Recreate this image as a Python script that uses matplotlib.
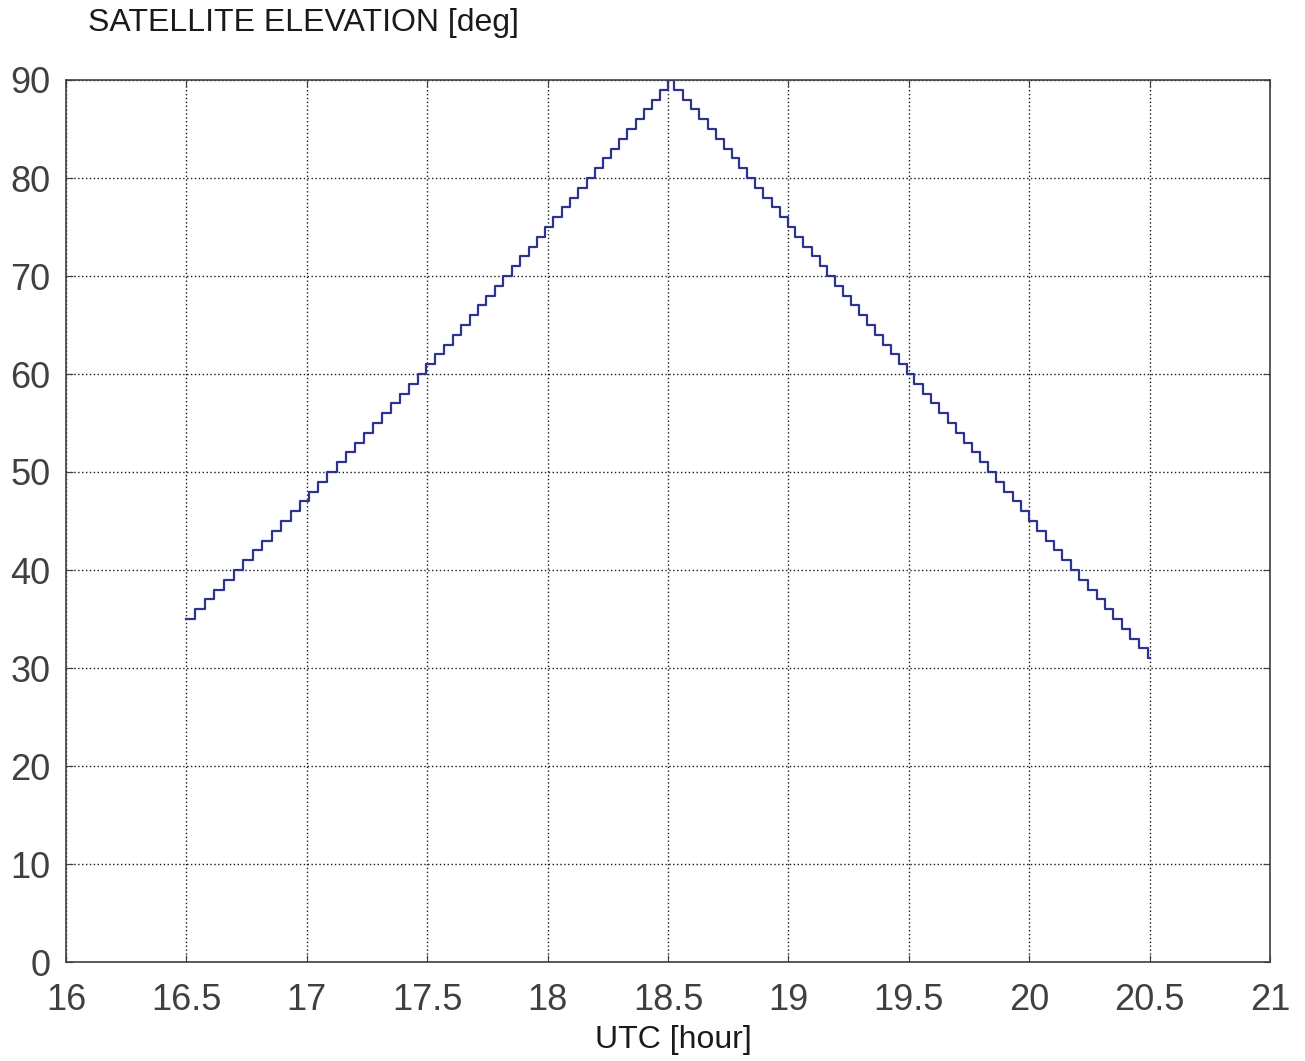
import matplotlib
matplotlib.use("Agg")
import matplotlib.pyplot as plt

# Times (UTC hours) at which the elevation changes to the given value
rise_times = [16.500, 16.536, 16.577, 16.616, 16.656, 16.696, 16.736, 16.775, 16.815, 16.854,
              16.894, 16.933, 16.972, 17.010, 17.048, 17.085, 17.124, 17.163, 17.200, 17.238,
              17.275, 17.312, 17.350, 17.387, 17.424, 17.461, 17.496, 17.532, 17.570, 17.606,
              17.640, 17.676, 17.710, 17.744, 17.782, 17.816, 17.851, 17.885, 17.922, 17.955,
              17.989, 18.022, 18.059, 18.093, 18.128, 18.162, 18.195, 18.229, 18.263, 18.297,
              18.331, 18.366, 18.400, 18.432, 18.467, 18.499]
rise_elev = list(range(35, 91))

fall_times = [18.525, 18.561, 18.595, 18.630, 18.665, 18.698, 18.733, 18.765, 18.796, 18.829,
              18.861, 18.896, 18.931, 18.965, 18.997, 19.027, 19.062, 19.097, 19.131, 19.162,
              19.194, 19.226, 19.260, 19.293, 19.328, 19.360, 19.392, 19.425, 19.459, 19.491,
              19.523, 19.558, 19.592, 19.627, 19.662, 19.696, 19.729, 19.761, 19.796, 19.830,
              19.862, 19.897, 19.931, 19.966, 19.999, 20.034, 20.069, 20.103, 20.137, 20.174,
              20.208, 20.243, 20.280, 20.315, 20.349, 20.384, 20.419, 20.456, 20.494]
fall_elev = list(range(89, 30, -1))

end_time = [20.500]
end_elev = [31]

x_ticks = [16, 16.5, 17, 17.5, 18, 18.5, 19, 19.5, 20, 20.5, 21]
x_tick_labels = ["16", "16.5", "17", "17.5", "18", "18.5", "19", "19.5", "20", "20.5", "21"]
y_ticks = [0, 10, 20, 30, 40, 50, 60, 70, 80, 90]

plt.rcParams['font.family'] = ['Liberation Sans', 'DejaVu Sans']

times = rise_times + fall_times + end_time
elev = rise_elev + fall_elev + end_elev

fig = plt.figure(figsize=(13.05, 10.61), dpi=100)
ax = fig.add_axes([66/1305, 1 - 962/1061, (1270 - 66)/1305, (962 - 80)/1061])

ax.plot(times, elev, drawstyle='steps-post', color='#2b3590', linewidth=1.6)

ax.set_xlim(16, 21)
ax.set_ylim(0, 90)
ax.set_xticks(x_ticks)
ax.set_xticklabels(x_tick_labels)
ax.set_yticks(y_ticks)
ax.grid(True, color='#1a1a1a', linestyle=(0, (1, 1.8)), linewidth=1.0)
ax.tick_params(axis='both', direction='in', length=5, labelsize=26, colors='#404040',
               top=True, right=True)
ax.tick_params(axis='x', pad=15)
ax.tick_params(axis='y', pad=11)
for s in ax.spines.values():
    s.set_color('#404040')
    s.set_linewidth(1.2)

fig.text(88/1305, 1 - 23/1061, "SATELLITE ELEVATION [deg]", fontsize=23, color='#1a1a1a',
         ha='left', va='center')
fig.text(673/1305, 1 - 1040/1061, "UTC [hour]", fontsize=23, color='#1a1a1a',
         ha='center', va='center')

fig.savefig("out.png", dpi=100)
